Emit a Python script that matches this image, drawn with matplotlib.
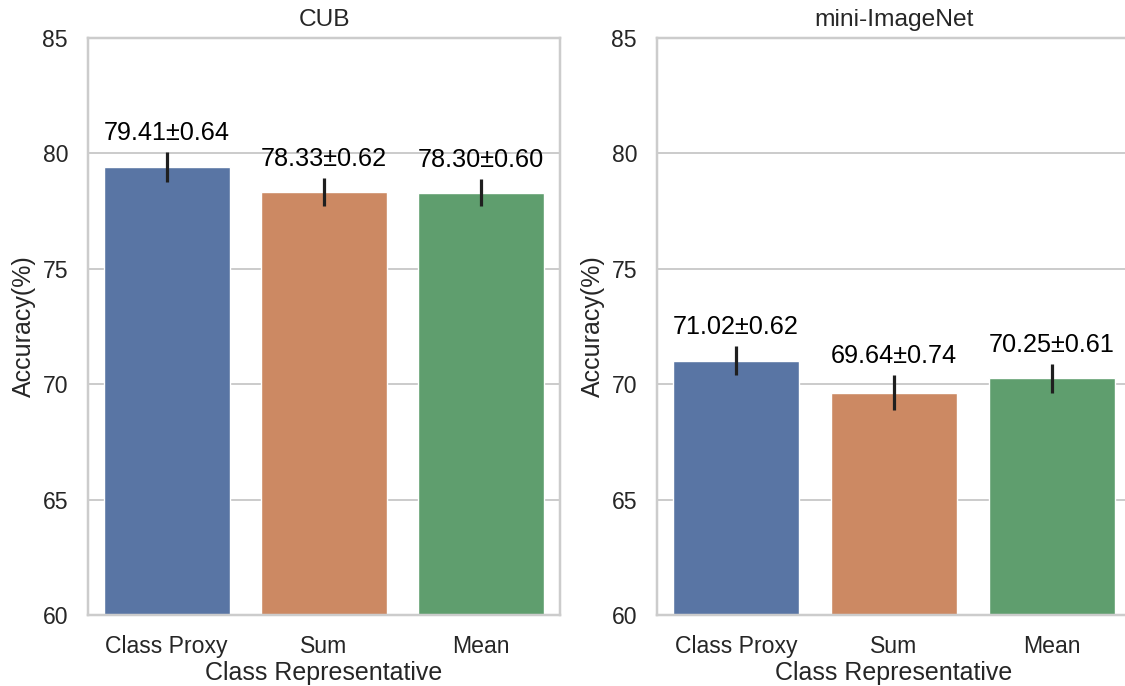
import matplotlib
matplotlib.use("Agg")
import matplotlib.pyplot as plt
import seaborn as sns
import numpy as np

categories = ["Class Proxy", "Sum", "Mean"]
datasets = ["CUB", "mini-ImageNet"]
cub_mean = [79.41, 78.33, 78.30]
cub_err = [0.64, 0.62, 0.60]
mini_mean = [71.02, 69.64, 70.25]
mini_err = [0.62, 0.74, 0.61]
yticks = [60, 65, 70, 75, 80, 85]

sns.set_theme(style="whitegrid")
plt.rcParams['font.family'] = ['Liberation Sans', 'DejaVu Sans']

W, H = 1125, 686
fig = plt.figure(figsize=(W / 100, H / 100), dpi=100)
px = 1 / 1.3889  # points per pixel at dpi 100

colors = sns.color_palette("deep", 3)
colors = [sns.desaturate(c, 0.75) for c in colors]

axes_px = [(88, 560), (657, 1131)]
top_px, bot_px = 38, 615

for (x0, x1), name, means, errs in zip(axes_px, datasets,
                                      [cub_mean, mini_mean], [cub_err, mini_err]):
    ax = fig.add_axes([x0 / W, 1 - bot_px / H, (x1 - x0) / W, (bot_px - top_px) / H])
    x = np.arange(len(categories))
    ax.bar(x, means, width=0.8, color=colors, zorder=2)
    ax.vlines(x, np.array(means) - np.array(errs), np.array(means) + np.array(errs),
              color="#1f1f1f", linewidth=3.2 * px, zorder=3)
    for xi, m, e in zip(x, means, errs):
        ax.annotate(f"{m:.2f}±{e:.2f}", (xi, m + e), xytext=(0, 7 * px),
                    textcoords="offset points", ha="center", va="bottom",
                    fontsize=25.3 * px, color="black", zorder=4)
    ax.set_ylim(60, 85)
    ax.set_xlim(-0.5, 2.5)
    ax.set_yticks(yticks)
    ax.set_xticks(x)
    ax.set_xticklabels(categories)
    ax.tick_params(axis="both", length=0, labelsize=23 * px, pad=20 * px,
                   labelcolor="#262626")
    ax.set_title(name, fontsize=24.5 * px, color="#262626", pad=12 * px)
    ax.set_xlabel("Class Representative", fontsize=25 * px, color="#262626",
                  labelpad=3 * px)
    ax.set_ylabel("Accuracy(%)", fontsize=25 * px, color="#262626", labelpad=6 * px)
    ax.grid(axis="x", visible=False)
    ax.grid(axis="y", color="#cccccc", linewidth=2 * px)
    ax.set_axisbelow(True)
    for s in ax.spines.values():
        s.set_color("#cccccc")
        s.set_linewidth(2.5 * px)

fig.savefig("out.png", dpi=100)
